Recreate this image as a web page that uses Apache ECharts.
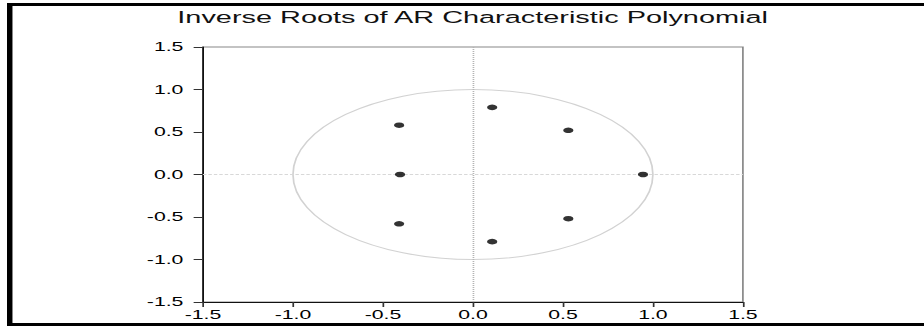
<!DOCTYPE html>
<html>
<head>
<meta charset="utf-8">
<script src="https://cdn.jsdelivr.net/npm/echarts@6/dist/echarts.min.js"></script>
<style>
html, body { margin: 0; padding: 0; width: 924px; height: 327px; overflow: hidden; background: #fff; }
#frame-top { position: absolute; left: 7px; top: 3px; width: 917px; height: 3px; background: #000; }
#frame-left { position: absolute; left: 7px; top: 3px; width: 5px; height: 323px; background: #000; }
#frame-left-in { position: absolute; left: 12px; top: 6px; width: 1px; height: 317px; background: #888; }
#frame-bottom { position: absolute; left: 7px; top: 323px; width: 917px; height: 3px; background: #000; }
#chart { position: absolute; left: 0; top: 0; width: 556px; height: 327px; transform: scaleX(1.7); transform-origin: 0 0; }
</style>
</head>
<body>
<div id="chart"></div>
<div id="frame-top"></div>
<div id="frame-left"></div>
<div id="frame-left-in"></div>
<div id="frame-bottom"></div>
<script>
// Chart text
const titleText = 'Inverse Roots of AR Characteristic Polynomial';

// Axis range and tick step
const axisMin = -1.5;
const axisMax = 1.5;
const tickStep = 0.5;

// Inverse roots (real part, imaginary part)
const rootReal = [0.107, 0.53, -0.41, -0.405, 0.945, 0.53, -0.41, 0.107];
const rootImag = [0.79, 0.52, 0.58, 0.0, 0.0, -0.52, -0.58, -0.79];

// Unit circle reference: centre x, centre y, radius
const unitCircle = [[0, 0, 1]];

const chart = echarts.init(document.getElementById('chart'), null, { renderer: 'svg' });

const labelFont = { fontFamily: 'Liberation Sans', fontSize: 12.5, color: '#000' };

function axisCommon(pos) {
  const isLeft = pos === 'left';
  return {
    type: 'value',
    position: pos,
    min: axisMin,
    max: axisMax,
    interval: tickStep,
    axisLine: { show: true, onZero: false, lineStyle: { color: '#111', width: 1 } },
    axisTick: { show: true, inside: false, length: isLeft ? 5.5 : 5, lineStyle: { color: '#333' } },
    axisLabel: Object.assign({ margin: isLeft ? 11.5 : 6.5, formatter: v => v.toFixed(1) }, labelFont),
    splitLine: { show: false }
  };
}

chart.setOption({
  animation: false,
  title: {
    text: titleText,
    left: 'center',
    top: 4,
    textStyle: { fontFamily: 'Liberation Sans', fontSize: 17, fontWeight: 'normal', color: '#111' }
  },
  grid: {
    left: 119.4,
    top: 47,
    width: 317.6,
    height: 255,
    show: true,
    borderColor: '#888',
    borderWidth: 1,
    backgroundColor: 'transparent'
  },
  xAxis: axisCommon('bottom'),
  yAxis: axisCommon('left'),
  series: [
    {
      type: 'custom',
      data: unitCircle,
      silent: true,
      renderItem: function (params, api) {
        const c = api.coord([api.value(0), api.value(1)]);
        const s = api.size([api.value(2), api.value(2)]);
        return {
          type: 'ellipse',
          shape: { cx: c[0], cy: c[1], rx: s[0], ry: s[1] },
          style: { fill: 'none', stroke: '#d2d2d2', lineWidth: 1 }
        };
      },
      markLine: {
        silent: true,
        symbol: 'none',
        label: { show: false },
        data: [
          { xAxis: 0, lineStyle: { type: [1, 1], color: '#b4b4b4', width: 1 } },
          { yAxis: 0, lineStyle: { type: [2, 1.2], color: '#d8d8d8', width: 1 } }
        ]
      }
    },
    {
      type: 'scatter',
      data: rootReal.map((x, i) => [x, rootImag[i]]),
      symbol: 'circle',
      symbolSize: [6, 5.5],
      itemStyle: { color: '#000' },
      z: 5
    }
  ]
});
</script>
</body>
</html>
